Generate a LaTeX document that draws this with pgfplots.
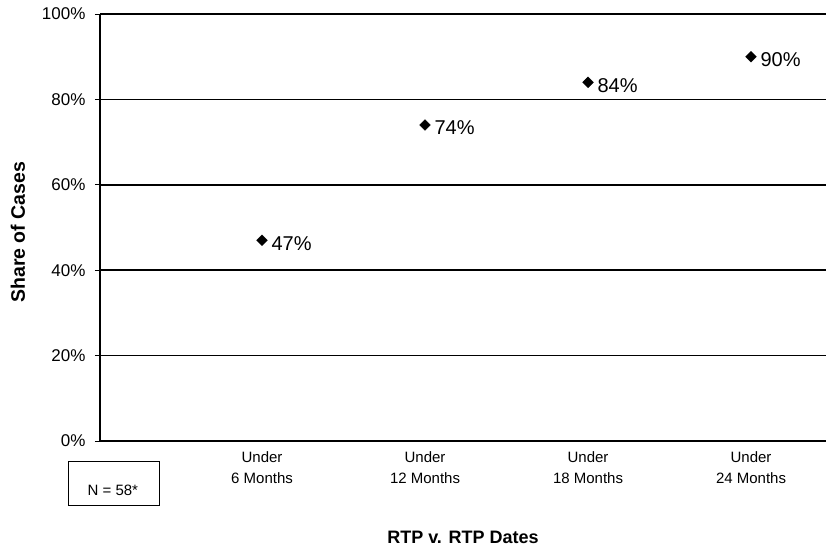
\documentclass[border=0pt]{standalone}
\usepackage{pgfplots}
\pgfplotsset{compat=1.18}
\usepackage{fontspec}
\setmainfont{Liberation Sans}
\begin{document}
\begin{tikzpicture}[x=1pt,y=1pt]
\useasboundingbox (0,0) rectangle (826,547);
\begin{axis}[
  at={(100pt,106pt)}, anchor=south west,
  scale only axis, width=726pt, height=427pt,
  xmin=-0.994, xmax=3.46, ymin=0, ymax=100,
  /pgf/number format/assume math mode=true,
  axis x line=bottom, axis y line=left,
  axis line style={-, line width=1.6pt, black},
  xtick={0,1,2,3},
  xticklabels={Under\\6 Months, Under\\12 Months, Under\\18 Months, Under\\24 Months},
  xticklabel style={align=center, font=\fontsize{15}{21}\selectfont, yshift=-2pt},
  major x tick style={draw=none},
  ytick={0,20,40,60,80,100},
  yticklabels={0\%,20\%,40\%,60\%,80\%,100\%},
  yticklabel style={font=\fontsize{17}{19}\selectfont, xshift=-6pt},
  ytick style={line width=1pt, black},
  tick align=outside, major tick length=5pt,
  ymajorgrids, grid style={line width=1.6pt, black},
  xlabel={\textbf{RTP v. RTP Dates}},
  xlabel style={font=\fontsize{18}{20}\selectfont, yshift=-41pt},
  ylabel={\textbf{Share of Cases}},
  ylabel style={font=\fontsize{19.5}{21}\selectfont, at={(ticklabel cs:0.475)}, xshift=6pt, yshift=10pt},
  clip=false,
]
\addplot[only marks, mark=square*, mark options={rotate=45}, mark size=3.8pt, black,
  nodes near coords={\fontsize{20}{22}\selectfont\pgfmathprintnumber{\pgfplotspointmeta}\%},
  nodes near coords align={anchor=west}, point meta=explicit,
  every node near coord/.append style={xshift=6pt, yshift=-3pt}]
  coordinates {(0,47) [47] (1,74) [74] (2,84) [84] (3,90) [90]};
\node[draw, line width=1.2pt, minimum width=91pt, minimum height=44pt] at (axis cs:-0.908,-9.9) {};
\node[font=\fontsize{15}{17}\selectfont] at (axis cs:-0.915,-11.6) {N = 58*};
\end{axis}
\end{tikzpicture}
\end{document}
